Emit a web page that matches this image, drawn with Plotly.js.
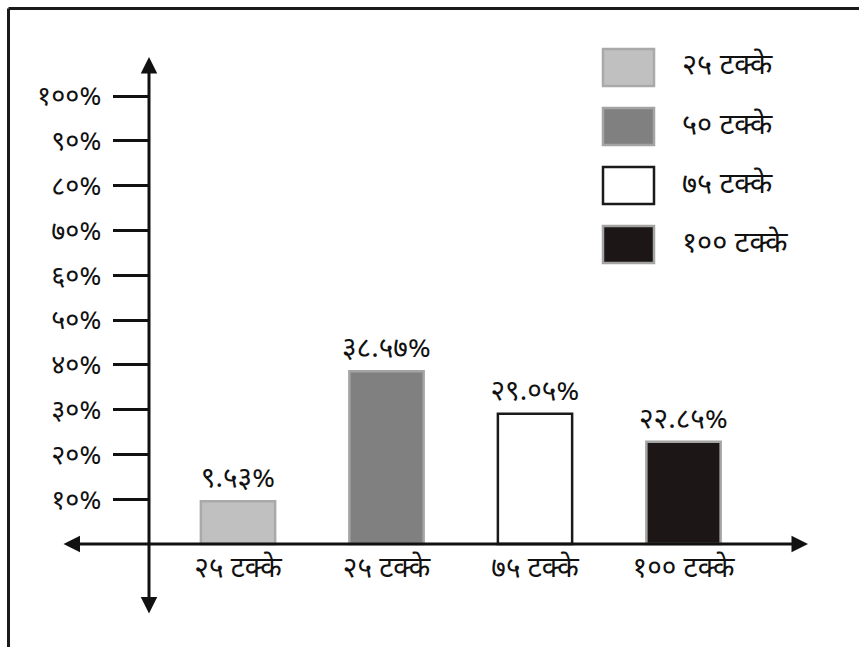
<!DOCTYPE html>
<html>
<head>
<meta charset="utf-8">
<script src="https://cdn.plot.ly/plotly-3.0.1.min.js"></script>
<style>
html,body{margin:0;padding:0;background:#fff;}
#chart{width:859px;height:647px;}
</style>
</head>
<body>
<div id="chart"></div>
<script>
// ---- data ----
const categories = ['२५ टक्के', '२५ टक्के', '७५ टक्के', '१०० टक्के'];
const legendNames = ['२५ टक्के', '५० टक्के', '७५ टक्के', '१०० टक्के'];
const values = [9.53, 38.57, 29.05, 22.85];
const valueLabels = ['९.५३%', '३८.५७%', '२९.०५%', '२२.८५%'];
const yTickValues = [10, 20, 30, 40, 50, 60, 70, 80, 90, 100];
const yTickLabels = ['१०%', '२०%', '३०%', '४०%', '५०%', '६०%', '७०%', '८०%', '९०%', '१००%'];

// ---- styles ----
const fills = ['#c0c0c0', '#808080', '#ffffff', '#1c1616'];
const borders = ['#a9a9a9', '#a4a4a4', '#1a1a1a', '#a4a4a4'];
const FONT = '"Noto Sans Devanagari", "Lohit Devanagari", "Noto Sans", sans-serif';
const W = 859, H = 647;
const M = {l: 149, r: 51, t: 57, b: 32};
const PW = W - M.l - M.r, PH = H - M.t - M.b;
const px = v => (v - M.l) / PW;       // pixel x -> paper x
const py = v => (H - M.b - v) / PH;   // pixel y -> paper y

const idx = categories.map((_, i) => i);

const traces = idx.map(i => ({
  type: 'bar',
  x: [idx[i]],
  y: [values[i]],
  name: legendNames[i],
  width: 0.5,
  text: [valueLabels[i]],
  textposition: 'outside',
  constraintext: 'none',
  cliponaxis: false,
  textfont: {family: FONT, size: 28, color: '#111'},
  marker: {color: fills[i], line: {color: borders[i], width: 2.5}},
  hoverinfo: 'skip'
}));

const shapes = [
  {type: 'line', xref: 'paper', yref: 'paper', x0: px(8.5), x1: px(W), y0: py(8.5), y1: py(8.5), line: {color: '#1a1a1a', width: 3}},
  {type: 'line', xref: 'paper', yref: 'paper', x0: px(8.5), x1: px(8.5), y0: py(8.5), y1: py(H), line: {color: '#1a1a1a', width: 3}}
];
const annotations = [
  // y axis with arrows on both ends
  {xref: 'paper', yref: 'paper', x: 0, y: 1, ax: 0, ay: PH, axref: 'pixel', ayref: 'pixel',
   text: '', showarrow: true, arrowhead: 2, startarrowhead: 2, arrowside: 'end+start', arrowsize: 1.1, startarrowsize: 1.1,
   arrowwidth: 3, arrowcolor: '#111', standoff: 0, startstandoff: 0},
  // x axis with arrows on both ends
  {xref: 'paper', yref: 'y', x: 1, y: 0, ax: -(808 - 62), ay: 0, axref: 'pixel', ayref: 'pixel',
   text: '', showarrow: true, arrowhead: 2, startarrowhead: 2, arrowside: 'end+start', arrowsize: 1.1, startarrowsize: 1.1,
   arrowwidth: 3, arrowcolor: '#111', standoff: 0, startstandoff: 0}
];

// custom legend (large swatches)
legendNames.forEach((name, i) => {
  const cy = 67.5 + 59 * i;
  shapes.push({type: 'rect', xref: 'paper', yref: 'paper',
    x0: px(603), x1: px(654), y0: py(cy - 18.5), y1: py(cy + 18.5),
    fillcolor: fills[i], line: {color: borders[i], width: 2.5}});
  annotations.push({xref: 'paper', yref: 'paper', x: px(680), y: py(cy), xanchor: 'left', yanchor: 'middle',
    text: name, showarrow: false, font: {family: FONT, size: 29, color: '#111'}});
});

const layout = {
  width: W, height: H,
  margin: M,
  paper_bgcolor: '#fff', plot_bgcolor: 'rgba(0,0,0,0)',
  showlegend: false,
  barmode: 'overlay',
  font: {family: FONT, color: '#111'},
  xaxis: {
    range: [(149 - 238) / 148.5, (808 - 238) / 148.5],
    tickvals: idx, ticktext: categories,
    anchor: 'free', position: (615 - 544) / PH,
    showline: false, showgrid: false, zeroline: false, ticks: '',
    ticklabelstandoff: 4,
    tickfont: {family: FONT, size: 28, color: '#111'}
  },
  yaxis: {
    range: [-(615 - 544) / 4.48, (544 - 57) / 4.48],
    tickvals: yTickValues, ticktext: yTickLabels,
    showline: false, showgrid: false, zeroline: false,
    ticks: 'outside', ticklen: 35, tickwidth: 3, tickcolor: '#111',
    ticklabelstandoff: 6,
    tickfont: {family: FONT, size: 27, color: '#111'}
  },
  shapes: shapes,
  annotations: annotations
};

Plotly.newPlot('chart', traces, layout, {displayModeBar: false, staticPlot: true});
</script>
</body>
</html>
